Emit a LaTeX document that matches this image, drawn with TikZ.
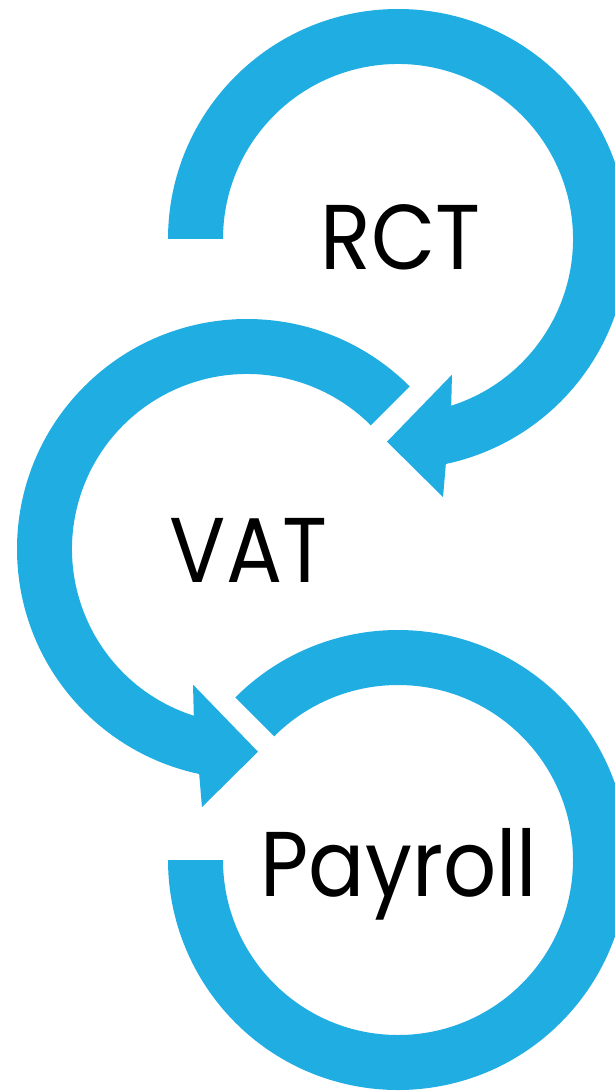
\documentclass[tikz,border=0pt]{standalone}
\usepackage{fontspec}
\setmainfont{Poppins}
\definecolor{ringblue}{RGB}{31,173,226}
\newcommand{\narrowtext}[1]{\scalebox{0.905}[1]{#1}}
\begin{document}
\begin{tikzpicture}[x=0.5pt,y=0.5pt,
  ring/.style={fill=ringblue,draw=none},
  label/.style={anchor=base,inner sep=0pt,font=\fontsize{46}{50}\selectfont,text=black}]
\useasboundingbox (0,0) rectangle (615,-1091);
\clip (0,0) rectangle (615,-1091);
% top ring (RCT), clockwise, arrow head at bottom
\begin{scope}[shift={(398,-239)}]
  \fill[ring] (180:230) arc[start angle=180,end angle=-78,radius=230]
    -- (-80.1:262) -- (-93.1:203) -- (-68.3:146) -- (-72.3:175)
    arc[start angle=-72.3,end angle=180,radius=175] -- cycle;
\end{scope}
% middle ring (VAT), counter-clockwise
\begin{scope}[shift={(247,-549)}]
  \fill[ring] (45:230) arc[start angle=45,end angle=258,radius=230]
    -- (260.1:262) -- (273.1:203) -- (248.3:146) -- (252.3:175)
    arc[start angle=252.3,end angle=45,radius=175] -- cycle;
\end{scope}
% bottom ring (Payroll)
\begin{scope}[shift={(398,-860)}]
  \fill[ring] (135:230) arc[start angle=135,end angle=-180,radius=230]
    -- (180:175) arc[start angle=-180,end angle=135,radius=175] -- cycle;
\end{scope}
\node[label] (rct) at (400.5,-270) {\narrowtext{RCT}};
\node[label] (vat) at (248.5,-582) {\narrowtext{VAT}};
\node[label] (pay) at (399,-896) {\narrowtext{Payroll}};
\end{tikzpicture}
\end{document}
